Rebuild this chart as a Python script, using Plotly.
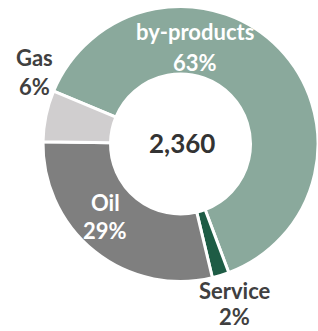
import plotly.graph_objects as go

labels = ["by-products", "Service", "Oil", "Gas"]
values = [1487, 47, 684, 142]
colors = ["#8aa99c", "#1e5c45", "#7f7f7f", "#d0cecf"]
# label anchor points (pixel centres of the two text lines) and text colour
label_pos = {
    "by-products": (195, 32, 62, "#ffffff"),
    "Service": (235, 290, 316, "#404040"),
    "Oil": (105, 202, 230, "#ffffff"),
    "Gas": (34, 57, 87, "#404040"),
}

W, H = 318, 331
total = sum(values)
FONT = "Lato"

fig = go.Figure(go.Pie(
    labels=labels, values=values, sort=False, direction="clockwise",
    rotation=-67.4, hole=0.509, textinfo="none", hoverinfo="label+percent",
    marker=dict(colors=colors, line=dict(color="white", width=3)),
    domain=dict(x=[43 / W, 1.0], y=[1 - 281.5 / H, 1 - 6.5 / H]),
    showlegend=False,
))

anns = []
for lab, v in zip(labels, values):
    px, y1, y2, col = label_pos[lab]
    pct = round(100 * v / total)
    for txt, py in ((lab, y1), (f"{pct}%", y2)):
        anns.append(dict(text=f"<b>{txt}</b>", x=px / W, y=1 - py / H, xref="paper", yref="paper",
                         showarrow=False, xanchor="center", yanchor="middle", borderpad=0,
                         font=dict(family=FONT, size=22, color=col)))
anns.append(dict(text=f"<b>{total:,}</b>", x=181.5 / W, y=1 - 143 / H, xref="paper", yref="paper",
                 showarrow=False, xanchor="center", yanchor="middle",
                 font=dict(family=FONT, size=26, color="#333333")))

fig.update_layout(width=W, height=H, margin=dict(l=0, r=0, t=0, b=0),
                  paper_bgcolor="white", plot_bgcolor="white", annotations=anns)
fig.write_html("out.html", config={"displayModeBar": False},
               post_script="document.body.style.margin='0';document.body.style.overflow='hidden';")
